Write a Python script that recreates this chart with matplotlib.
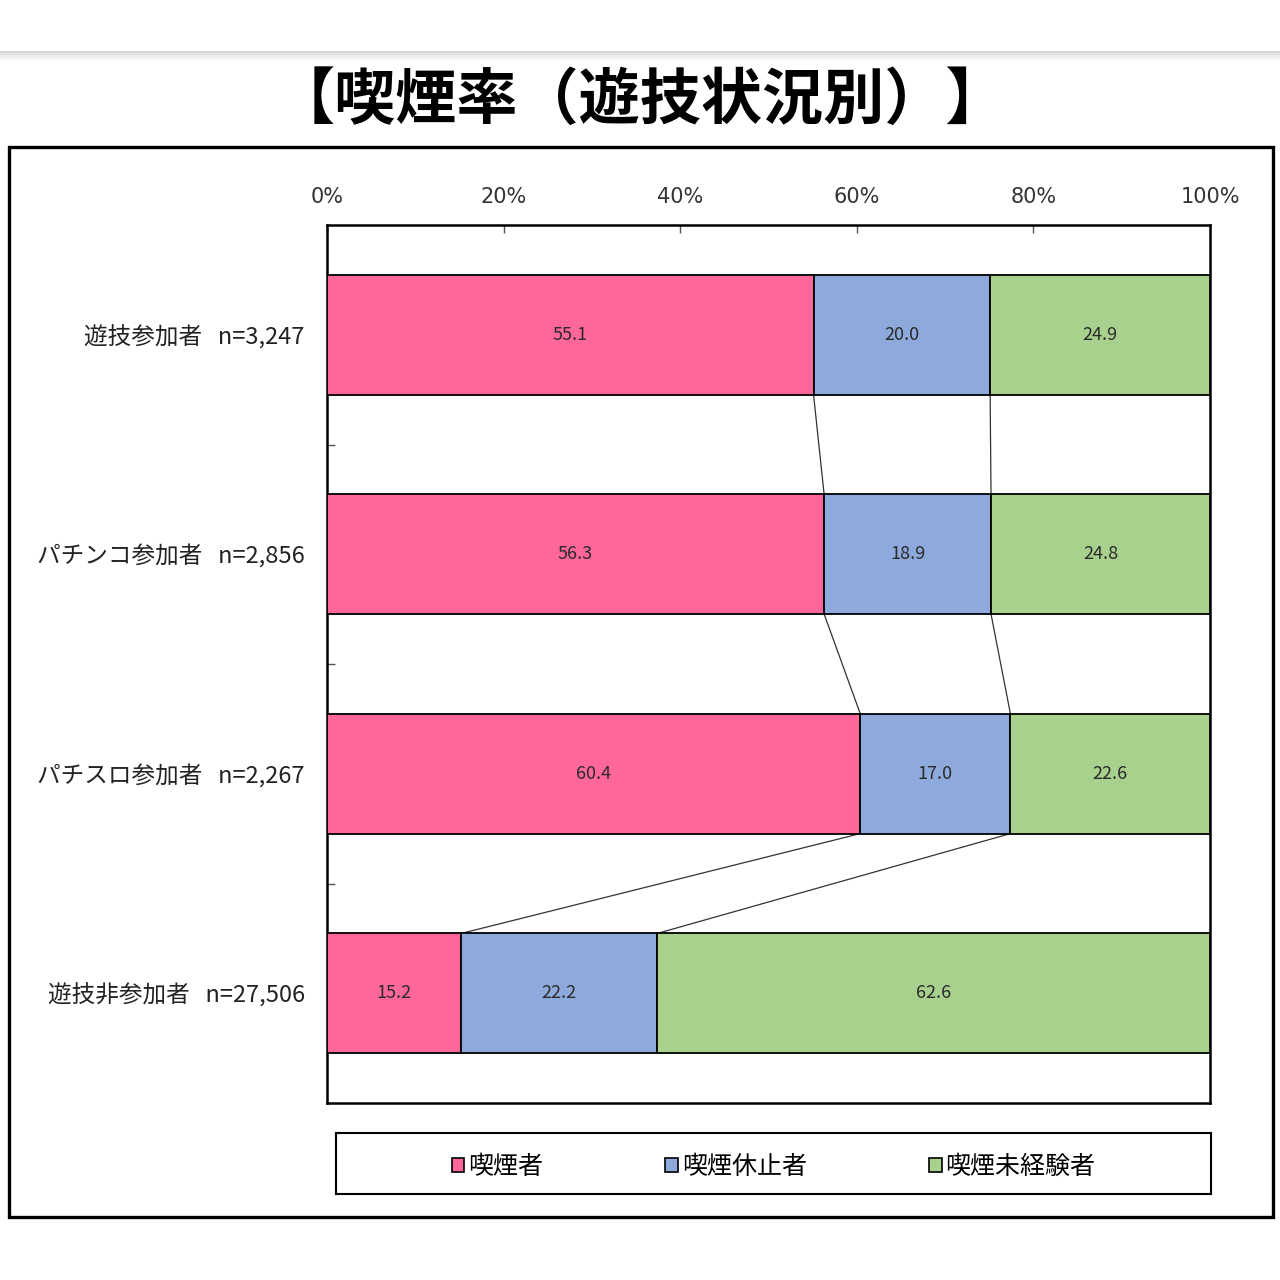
import matplotlib
matplotlib.use("Agg")
import matplotlib.pyplot as plt
import numpy as np
from matplotlib import font_manager
from matplotlib.patches import Rectangle
from matplotlib.lines import Line2D

# data
categories = ["遊技参加者", "パチンコ参加者", "パチスロ参加者", "遊技非参加者"]
sample_sizes = ["n=3,247", "n=2,856", "n=2,267", "n=27,506"]
series_names = ["喫煙者", "喫煙休止者", "喫煙未経験者"]
smokers = [55.1, 56.3, 60.4, 15.2]
quitters = [20.0, 18.9, 17.0, 22.2]
never = [24.9, 24.8, 22.6, 62.6]
x_ticks = [0, 20, 40, 60, 80, 100]
x_tick_labels = ["0%", "20%", "40%", "60%", "80%", "100%"]

colors = ["#FF6699", "#8EA9DB", "#A9D18E"]

available = {f.name for f in font_manager.fontManager.ttflist}
narrow = "Liberation Sans Narrow" if "Liberation Sans Narrow" in available else "DejaVu Sans"
plt.rcParams["font.family"] = ["Noto Sans CJK JP", "DejaVu Sans"]

fig = plt.figure(figsize=(12.8, 12.8), dpi=100)
W = H = 1280.0


def fx(px):
    return px / W


def fy(py):
    return 1 - py / H


# faint gray band at the very top
for i, g in enumerate(["#d8d8d8", "#e2e2e2", "#ebebeb", "#f3f3f3", "#f9f9f9"]):
    fig.add_artist(Line2D([0, 1], [fy(52 + i * 2), fy(52 + i * 2)], color=g, lw=1.6,
                          transform=fig.transFigure))

# title
fig.text(0.5, fy(101), "【喫煙率（遊技状況別）】", ha="center", va="center",
         fontsize=44, fontweight="bold", color="black")

# outer frame
fig.add_artist(Rectangle((fx(9), fy(1217)), fx(1273) - fx(9), fy(147) - fy(1217),
                         transform=fig.transFigure, fill=False, ec="black", lw=2.4))

ax = fig.add_axes([fx(327), fy(1103), fx(1210) - fx(327), fy(225) - fy(1103)])

y = np.arange(len(categories))
bar_h = 0.545
series = [smokers, quitters, never]
left = np.zeros(len(categories))
for vals, col in zip(series, colors):
    vals = np.array(vals)
    ax.barh(y, vals, left=left, height=bar_h, color=col, edgecolor="black", lw=1.3, zorder=3)
    for yi, l, v in zip(y, left, vals):
        ax.text(l + v / 2, yi, f"{v:.1f}", ha="center", va="center",
                fontsize=13, color="#2a2a2a", zorder=4)
    left = left + vals

# connector lines between bars
cum1 = np.array(smokers)
cum2 = cum1 + np.array(quitters)
for cum in (cum1, cum2):
    for i in range(len(categories) - 1):
        ax.plot([cum[i], cum[i + 1]], [y[i] + bar_h / 2, y[i + 1] - bar_h / 2],
                color="#333333", lw=0.9, zorder=2)

ax.set_xlim(0, 100)
ax.set_ylim(len(categories) - 0.5, -0.5)
ax.xaxis.tick_top()
ax.set_xticks(x_ticks)
ax.set_xticklabels(x_tick_labels, family=narrow, fontsize=15, color="#333333")
ax.tick_params(axis="x", direction="in", length=6, width=1, pad=13, color="#555555")

ax.set_yticks(y)
ax.set_yticklabels([f"{c}   {n}" for c, n in zip(categories, sample_sizes)],
                   fontsize=17, color="#222222")
ax.tick_params(axis="y", which="major", length=0, pad=16)
ax.set_yticks(np.arange(len(categories) - 1) + 0.5, minor=True)
ax.tick_params(axis="y", which="minor", direction="in", length=6, width=1, color="#555555")
for s in ax.spines.values():
    s.set_linewidth(1.8)
    s.set_color("black")

# legend box
lax = fig.add_axes([fx(336), fy(1194), fx(1211) - fx(336), fy(1133) - fy(1194)])
lax.set_xticks([])
lax.set_yticks([])
for s in lax.spines.values():
    s.set_linewidth(1.5)
    s.set_color("black")
handles = [Rectangle((0, 0), 1, 1, fc=c, ec="black", lw=1.2) for c in colors]
lax.legend(handles, series_names, loc="center", ncol=3, frameon=False, fontsize=18,
           handlelength=0.5, handleheight=0.5, handletextpad=0.15, columnspacing=4.9,
           bbox_to_anchor=(0.5, 0.44))

fig.savefig("out.png", dpi=100)
